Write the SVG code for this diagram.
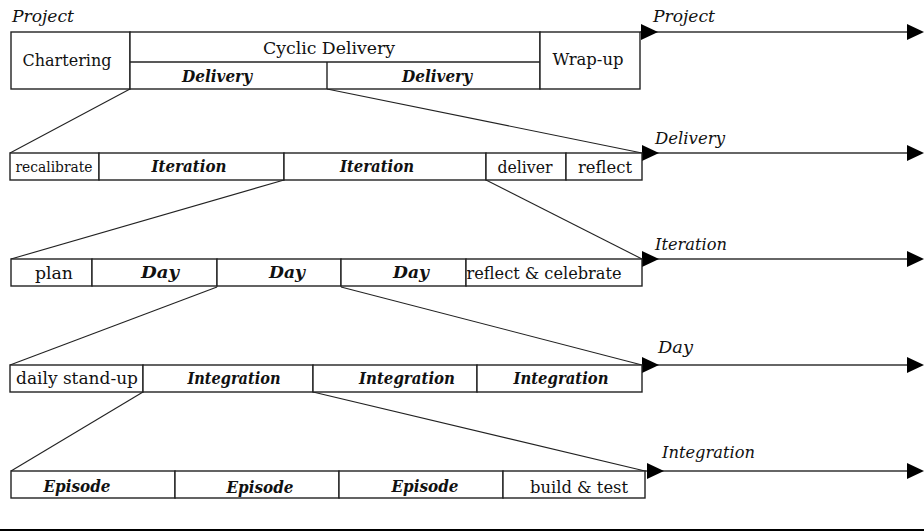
<svg xmlns="http://www.w3.org/2000/svg" width="924" height="531" viewBox="0 0 924 531" font-family="DejaVu Serif, Liberation Serif, serif" font-size="17">
  <style>
    .box { fill: #fff; stroke: #222; stroke-width: 1.4; }
    .ln { stroke: #222; stroke-width: 1.1; fill: none; }
    .axis { stroke: #333; stroke-width: 1.4; fill: none; }
    .head { fill: #000; }
    text { fill: #111; }
    .c { text-anchor: middle; }
    .bi { font-weight: bold; font-style: italic; }
    .it { font-style: italic; }
    .sm { font-size: 15px; }
  </style>
  <defs>
    <polygon id="tri" points="0,-8 17,0 0,8" class="head"/>
  </defs>

  <!-- timeline axes with arrowheads -->
  <g id="axes">
    <line class="axis" x1="640" y1="32" x2="912" y2="32"/>
    <use href="#tri" x="641" y="32"/>
    <use href="#tri" x="907" y="32"/>
    <text class="it" x="653" y="22" textLength="62" lengthAdjust="spacingAndGlyphs">Project</text>

    <line class="axis" x1="642" y1="153" x2="912" y2="153"/>
    <use href="#tri" x="642" y="153"/>
    <use href="#tri" x="907" y="153"/>
    <text class="it" x="655" y="144" textLength="70" lengthAdjust="spacingAndGlyphs">Delivery</text>

    <line class="axis" x1="642" y1="259" x2="912" y2="259"/>
    <use href="#tri" x="642" y="259"/>
    <use href="#tri" x="907" y="259"/>
    <text class="it" x="655" y="250" textLength="72" lengthAdjust="spacingAndGlyphs">Iteration</text>

    <line class="axis" x1="642" y1="365" x2="912" y2="365"/>
    <use href="#tri" x="642" y="365"/>
    <use href="#tri" x="907" y="365"/>
    <text class="it" x="658" y="353" textLength="35" lengthAdjust="spacingAndGlyphs">Day</text>

    <line class="axis" x1="645" y1="471" x2="912" y2="471"/>
    <use href="#tri" x="647" y="471"/>
    <use href="#tri" x="907" y="471"/>
    <text class="it" x="662" y="458" textLength="93" lengthAdjust="spacingAndGlyphs">Integration</text>
  </g>

  <!-- zoom-in connectors between levels -->
  <g id="connectors">
    <line class="ln" x1="130" y1="89" x2="10" y2="153"/>
    <line class="ln" x1="327" y1="89" x2="642" y2="153"/>
    <line class="ln" x1="284" y1="180" x2="11" y2="259"/>
    <line class="ln" x1="486" y1="180" x2="642" y2="259"/>
    <line class="ln" x1="217" y1="287" x2="10" y2="365"/>
    <line class="ln" x1="341" y1="287" x2="642" y2="365"/>
    <line class="ln" x1="143" y1="392" x2="11" y2="471"/>
    <line class="ln" x1="313" y1="392" x2="645" y2="471"/>
  </g>

  <!-- Project level -->
  <g id="project">
    <text class="it" x="12" y="22" textLength="62" lengthAdjust="spacingAndGlyphs">Project</text>
    <rect class="box" x="11" y="32" width="119" height="57"/>
    <rect class="box" x="130" y="32" width="410" height="57"/>
    <line class="box" x1="130" y1="62" x2="540" y2="62"/>
    <line class="box" x1="327" y1="62" x2="327" y2="89"/>
    <rect class="box" x="540" y="32" width="100" height="57"/>
    <text class="c" x="67" y="66" textLength="89" lengthAdjust="spacingAndGlyphs">Chartering</text>
    <text class="c" x="329" y="54" textLength="132" lengthAdjust="spacingAndGlyphs">Cyclic Delivery</text>
    <text class="c bi" x="217" y="82" textLength="70" lengthAdjust="spacingAndGlyphs">Delivery</text>
    <text class="c bi" x="437" y="82" textLength="70" lengthAdjust="spacingAndGlyphs">Delivery</text>
    <text class="c" x="588" y="65" textLength="71" lengthAdjust="spacingAndGlyphs">Wrap-up</text>
  </g>

  <!-- Delivery level -->
  <g id="delivery">
    <rect class="box" x="10" y="153" width="89" height="27"/>
    <rect class="box" x="99" y="153" width="185" height="27"/>
    <rect class="box" x="284" y="153" width="202" height="27"/>
    <rect class="box" x="486" y="153" width="80" height="27"/>
    <rect class="box" x="566" y="153" width="76" height="27"/>
    <text class="c sm" x="54" y="172" textLength="77" lengthAdjust="spacingAndGlyphs">recalibrate</text>
    <text class="c bi" x="189" y="172" textLength="75" lengthAdjust="spacingAndGlyphs">Iteration</text>
    <text class="c bi" x="377" y="172" textLength="74" lengthAdjust="spacingAndGlyphs">Iteration</text>
    <text class="c" x="525" y="173" textLength="55" lengthAdjust="spacingAndGlyphs">deliver</text>
    <text class="c" x="605" y="173" textLength="54" lengthAdjust="spacingAndGlyphs">reflect</text>
  </g>

  <!-- Iteration level -->
  <g id="iteration">
    <rect class="box" x="11" y="259" width="81" height="27"/>
    <rect class="box" x="92" y="259" width="125" height="27"/>
    <rect class="box" x="217" y="259" width="124" height="27"/>
    <rect class="box" x="341" y="259" width="125" height="27"/>
    <rect class="box" x="466" y="259" width="176" height="27"/>
    <text class="c" x="54" y="279" textLength="38" lengthAdjust="spacingAndGlyphs">plan</text>
    <text class="c bi" x="160" y="278" textLength="38" lengthAdjust="spacingAndGlyphs">Day</text>
    <text class="c bi" x="287" y="278" textLength="36" lengthAdjust="spacingAndGlyphs">Day</text>
    <text class="c bi" x="411" y="278" textLength="36" lengthAdjust="spacingAndGlyphs">Day</text>
    <text class="c" x="544" y="279" textLength="155" lengthAdjust="spacingAndGlyphs">reflect &amp; celebrate</text>
  </g>

  <!-- Day level -->
  <g id="day">
    <rect class="box" x="10" y="365" width="133" height="27"/>
    <rect class="box" x="143" y="365" width="170" height="27"/>
    <rect class="box" x="313" y="365" width="164" height="27"/>
    <rect class="box" x="477" y="365" width="165" height="27"/>
    <text class="c" x="77" y="384" textLength="122" lengthAdjust="spacingAndGlyphs">daily stand-up</text>
    <text class="c bi" x="234" y="384" textLength="93" lengthAdjust="spacingAndGlyphs">Integration</text>
    <text class="c bi" x="407" y="384" textLength="96" lengthAdjust="spacingAndGlyphs">Integration</text>
    <text class="c bi" x="561" y="384" textLength="95" lengthAdjust="spacingAndGlyphs">Integration</text>
  </g>

  <!-- Integration level -->
  <g id="integration">
    <rect class="box" x="11" y="471" width="164" height="27"/>
    <rect class="box" x="175" y="471" width="164" height="27"/>
    <rect class="box" x="339" y="471" width="164" height="27"/>
    <rect class="box" x="503" y="471" width="142" height="27"/>
    <text class="c bi" x="77" y="492" textLength="67" lengthAdjust="spacingAndGlyphs">Episode</text>
    <text class="c bi" x="260" y="493" textLength="67" lengthAdjust="spacingAndGlyphs">Episode</text>
    <text class="c bi" x="425" y="492" textLength="67" lengthAdjust="spacingAndGlyphs">Episode</text>
    <text class="c" x="579" y="493" textLength="98" lengthAdjust="spacingAndGlyphs">build &amp; test</text>
  </g>

  <!-- page rule at the bottom -->
  <line x1="0" y1="530" x2="924" y2="530" stroke="#000" stroke-width="2"/>
</svg>
